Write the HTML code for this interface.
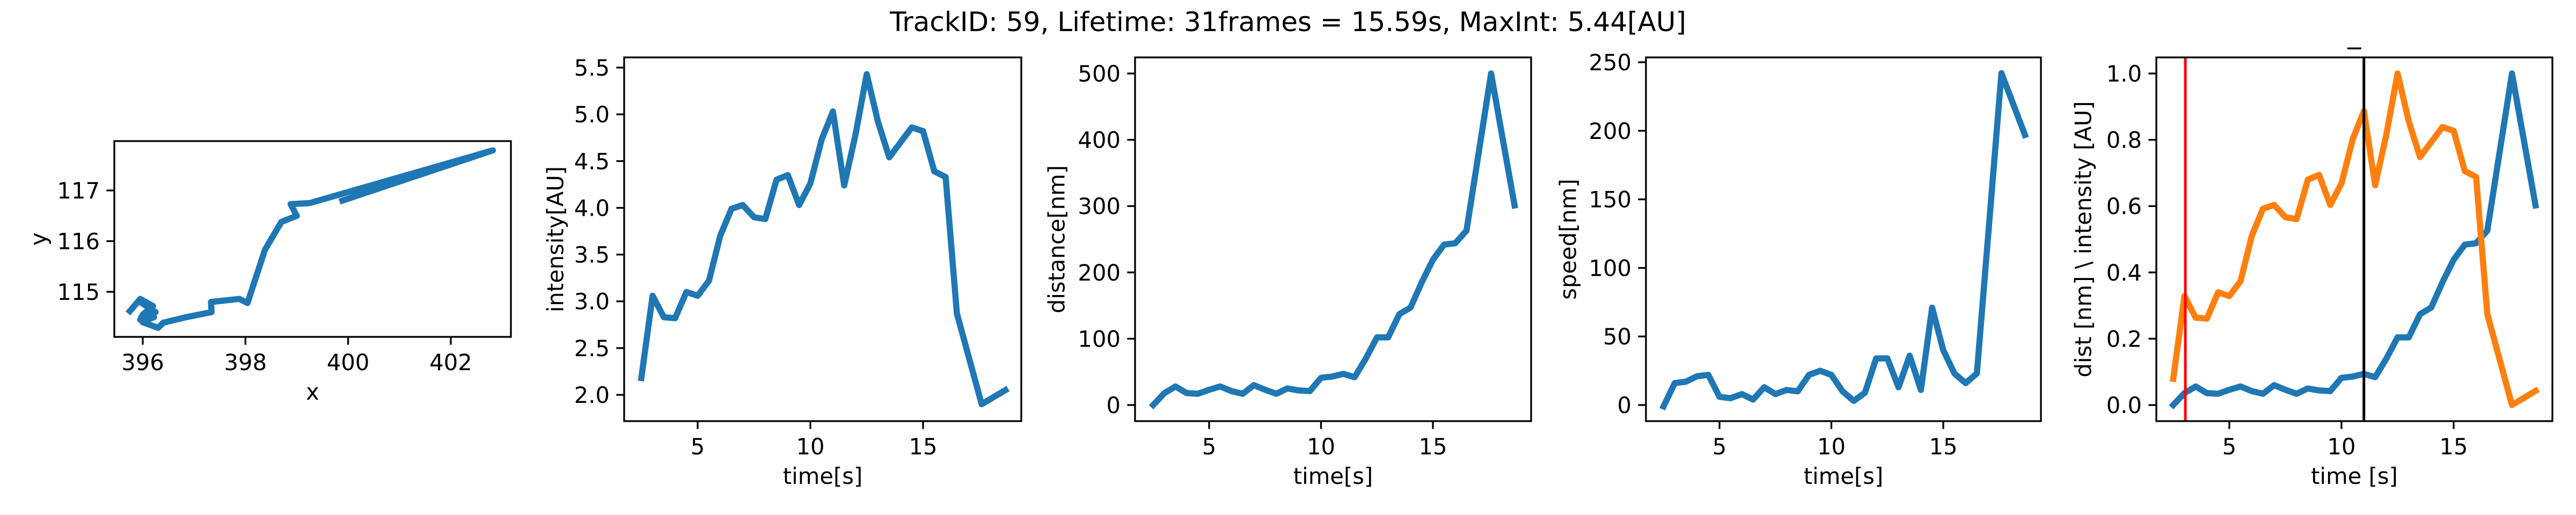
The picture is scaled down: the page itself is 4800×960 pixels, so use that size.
<!DOCTYPE html>
<html><head><meta charset="utf-8"><style>
html,body{margin:0;padding:0;background:#fff;}
svg{display:block;font-family:"DejaVu Sans","Liberation Sans",sans-serif;}
</style></head><body>
<svg id="fig" width="4800" height="960" viewBox="0 0 4800 960" xmlns="http://www.w3.org/2000/svg">
<rect width="4800" height="960" fill="#fff"/>
<text x="2400" y="58" font-size="50" text-anchor="middle">TrackID: 59, Lifetime: 31frames = 15.59s, MaxInt: 5.44[AU]</text>
</svg>
<script>
const times = [2.5,3,3.5,4,4.5,5,5.5,6,6.5,7,7.5,8,8.5,9,9.5,10,10.5,11,11.5,12,12.5,13,13.5,14,14.5,15,15.5,16,16.5,17.6,18.65];
const intensity = [2.18,3.06,2.83,2.82,3.10,3.06,3.22,3.70,3.99,4.03,3.90,3.88,4.30,4.35,4.03,4.26,4.73,5.03,4.24,4.78,5.43,4.92,4.54,4.70,4.86,4.82,4.39,4.33,2.87,1.90,2.05];
const distance = [0,18,28,18,17,23,28,21,17,30,23,17,25,22,21,41,43,47,42,70,102,102,137,147,185,219,242,244,263,500,301];
const speed = [-1,16,17,21,22,6,5,8,4,13,8,11,10,22,25,22,10,3,9,34,34,13,36,11,71,40,23,16,23,242,197];
const trackX = [395.75,395.95,396.2,395.98,396.25,396.0,396.15,395.97,396.1,395.95,396.22,396.0,396.12,395.98,396.05,396.0,396.3,396.4,396.84,397.34,397.33,397.88,398.04,398.38,398.7,399.0,398.88,399.25,402.82,399.89];
const trackY = [114.62,114.86,114.72,114.78,114.6,114.55,114.68,114.5,114.58,114.45,114.5,114.42,114.52,114.48,114.38,114.4,114.29,114.39,114.5,114.6,114.8,114.86,114.78,115.83,116.38,116.5,116.73,116.75,117.79,116.8];
const timeTicks = [5,10,15];
const eventTimes = [3.04, 11.0];

const NS='http://www.w3.org/2000/svg';
const svg=document.getElementById('fig');
function mk(tag,attrs,parent){const e=document.createElementNS(NS,tag);for(const k in attrs)e.setAttribute(k,attrs[k]);(parent||svg).appendChild(e);return e;}
function lin(d0,d1,p0,p1){return v=>p0+(v-d0)*(p1-p0)/(d1-d0);}

function panel(o){
  const g=mk('g',{});
  
  
  const sx=lin(o.xd[0],o.xd[1],o.xp[0],o.xp[1]);
  const sy=lin(o.yd[0],o.yd[1],o.yp[0],o.yp[1]);
  const clipId='c'+o.name;
  const cp=mk('clipPath',{id:clipId},g);
  mk('rect',{x:o.L,y:o.T,width:o.R-o.L,height:o.B-o.T},cp);
  const pg=mk('g',{'clip-path':'url(#'+clipId+')'},g);
  o.series.forEach(s=>{
    const pts=s.x.map((v,i)=>sx(v).toFixed(1)+','+sy(s.y[i]).toFixed(1)).join(' ');
    const pl=mk('polyline',{points:pts,fill:'none',stroke:s.color,'stroke-width':11.5,'stroke-linejoin':'round','stroke-linecap':'square'},pg);
    
    
  });
  (o.vlines||[]).forEach(v=>{
    const l=mk('line',{x1:sx(v.t),x2:sx(v.t),y1:o.T,y2:o.B,stroke:v.color,'stroke-width':5},pg);
    
    
  });
  const fr=mk('rect',{x:o.L,y:o.T,width:o.R-o.L,height:o.B-o.T,fill:'none',stroke:'#000','stroke-width':3.3},g);
  
  
  o.xticks.forEach((t,i)=>{
    const x=sx(t);
    mk('line',{x1:x,x2:x,y1:o.B,y2:o.B+14.6,stroke:'#000','stroke-width':3.3},g);
    const tx=mk('text',{x:x,y:o.B+62,'font-size':41.7,'text-anchor':'middle'},g);
    tx.textContent=o.xlabels[i];
    
    
  });
  o.yticks.forEach((t,i)=>{
    const y=sy(t);
    mk('line',{x1:o.L-14.6,x2:o.L,y1:y,y2:y,stroke:'#000','stroke-width':3.3},g);
    const tx=mk('text',{x:o.L-27,y:y+15,'font-size':41.7,'text-anchor':'end'},g);
    tx.textContent=o.ylabels[i];
    
    
  });
  const xl=mk('text',{x:(o.L+o.R)/2,y:o.xlabY,'font-size':41.7,'text-anchor':'middle'},g);
  xl.textContent=o.xlab;
  
  
  const cy=(o.T+o.B)/2;
  const yl=mk('text',{x:o.ylabX,y:cy,'font-size':41.7,'text-anchor':'middle',transform:'rotate(-90 '+o.ylabX+' '+cy+')',dy:'0.35em'},g);
  yl.textContent=o.ylab;
  
  
  if(o.title){
    const tt=mk('text',{x:(o.L+o.R)/2,y:80,'font-size':50,'text-anchor':'middle'},g);
    tt.textContent=o.title;
    
    
  }
}
const tl=timeTicks.map(String);
const tSeries=(name,y,color)=>({name:name,x:times,y:y,color:color});

panel({name:'trajectory-panel',L:213,R:952,T:263,B:628,xd:[396,402],xp:[266,840],yd:[115,117],yp:[544,355],
  series:[{name:'trajectory-line',x:trackX,y:trackY,color:'#1f77b4'}],
  xticks:[396,398,400,402],xlabels:['396','398','400','402'],yticks:[115,116,117],ylabels:['115','116','117'],
  xlab:'x',xlabY:745,ylab:'y',ylabX:72});
panel({name:'intensity-panel',L:1163,R:1903,T:107,B:785,xd:[5,15],xp:[1300,1720],yd:[2,5.5],yp:[736,126],
  series:[tSeries('intensity-line',intensity,'#1f77b4')],
  xticks:timeTicks,xlabels:tl,yticks:[2,2.5,3,3.5,4,4.5,5,5.5],ylabels:['2.0','2.5','3.0','3.5','4.0','4.5','5.0','5.5'],
  xlab:'time[s]',xlabY:902,ylab:'intensity[AU]',ylabX:1035});
panel({name:'distance-panel',L:2115,R:2853,T:107,B:785,xd:[5,15],xp:[2253,2670],yd:[0,500],yp:[755,137],
  series:[tSeries('distance-line',distance,'#1f77b4')],
  xticks:timeTicks,xlabels:tl,yticks:[0,100,200,300,400,500],ylabels:['0','100','200','300','400','500'],
  xlab:'time[s]',xlabY:902,ylab:'distance[nm]',ylabX:1969});
panel({name:'speed-panel',L:3067,R:3803,T:107,B:785,xd:[5,15],xp:[3204,3621],yd:[0,250],yp:[755,116],
  series:[tSeries('speed-line',speed,'#1f77b4')],
  xticks:timeTicks,xlabels:tl,yticks:[0,50,100,150,200,250],ylabels:['0','50','100','150','200','250'],
  xlab:'time[s]',xlabY:902,ylab:'speed[nm]',ylabX:2922});
const dMax=Math.max(...distance), iMin=Math.min(...intensity), iMax=Math.max(...intensity);
const distNorm=distance.map(v=>v/dMax);
const intNorm=intensity.map(v=>(v-iMin)/(iMax-iMin));
panel({name:'normalized-panel',L:4018,R:4756,T:107,B:785,xd:[5,15],xp:[4154,4572],yd:[0,1],yp:[755,137],
  series:[tSeries('distance-normalized-line',distNorm,'#1f77b4'),tSeries('intensity-normalized-line',intNorm,'#ff7f0e')],
  vlines:[{name:'start-event-line',t:eventTimes[0],color:'#ff0000'},{name:'peak-event-line',t:eventTimes[1],color:'#000000'}],
  xticks:timeTicks,xlabels:tl,yticks:[0,0.2,0.4,0.6,0.8,1.0],ylabels:['0.0','0.2','0.4','0.6','0.8','1.0'],
  xlab:'time [s]',xlabY:902,ylab:'dist [nm] \\ intensity [AU]',ylabX:3882,title:'_'});
</script>
</body></html>
